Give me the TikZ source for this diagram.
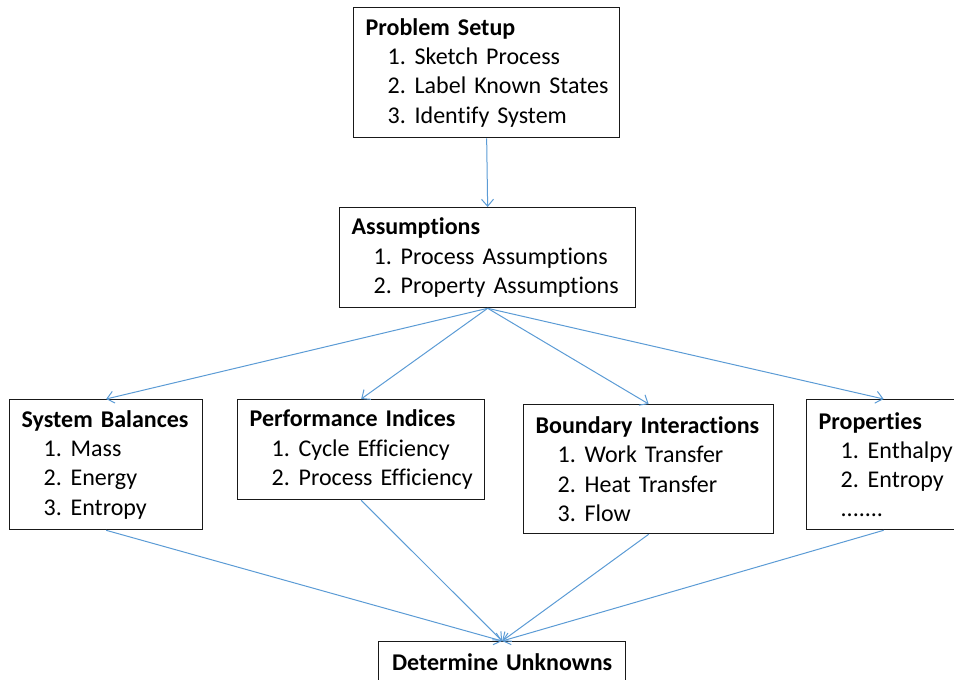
\documentclass[tikz,border=0pt]{standalone}
\usepackage{fontspec}
\setmainfont{Carlito}[Ligatures={NoCommon}]
\usetikzlibrary{arrows.meta}
\definecolor{arrowblue}{HTML}{5B9BD5}
\newcommand{\itm}[2]{\mbox{\hspace*{22pt}\makebox[27pt][l]{#1}#2}}
\begin{document}
\begin{tikzpicture}[x=1pt,y=-1pt,
  box/.style={draw=black!90, line width=1.3pt, align=left, inner xsep=12pt, inner ysep=0pt,
    anchor=north west, font=\fontsize{24}{29.3}\selectfont},
  conn/.style={draw=arrowblue, line width=1pt, -{Straight Barb[length=7pt,width=12pt]}}]
\useasboundingbox (0,0) rectangle (954,680);
\clip (0,0) rectangle (954,680);

\node[box, text width=242pt, minimum height=130pt] (setup) at (353,7)
  {\textbf{Problem Setup}\\ \itm{1.}{Sketch Process}\\ \itm{2.}{Label Known States}\\ \itm{3.}{Identify System}};
\node[box, text width=272pt, minimum height=100pt] (assume) at (339,207)
  {\textbf{Assumptions}\\ \itm{1.}{Process Assumptions}\\ \itm{2.}{Property Assumptions}};
\node[box, text width=169pt, minimum height=130pt] (sysbal) at (9,399)
  {\textbf{System Balances}\\ \itm{1.}{Mass}\\ \itm{2.}{Energy}\\ \itm{3.}{Entropy}};
\node[box, text width=223pt, minimum height=100pt] (perf) at (237,399)
  {\textbf{Performance Indices}\\ \itm{1.}{Cycle Efficiency}\\ \itm{2.}{Process Efficiency}};
\node[box, text width=226pt, minimum height=129pt] (bound) at (523,404)
  {\textbf{Boundary Interactions}\\ \itm{1.}{Work Transfer}\\ \itm{2.}{Heat Transfer}\\ \itm{3.}{Flow}};
\node[box, text width=130pt, minimum height=130pt] (props) at (806,399)
  {\textbf{Properties}\\ \itm{1.}{Enthalpy}\\ \itm{2.}{Entropy}\\ \mbox{\hspace*{22pt}.......}};
\node[box, align=center, text width=223pt, minimum height=42pt] (du) at (378,641)
  {\textbf{Determine Unknowns}};

\draw[conn] (setup.south) -- (assume.north);
\draw[conn] (assume.south) -- (sysbal.north);
\draw[conn] (assume.south) -- (perf.north);
\draw[conn] (assume.south) -- (bound.north);
\draw[conn] (assume.south) -- (props.north);
\draw[conn] (sysbal.south) -- (du.north);
\draw[conn] (perf.south) -- (du.north);
\draw[conn] (bound.south) -- (du.north);
\draw[conn] (props.south) -- (du.north);
\end{tikzpicture}
\end{document}
